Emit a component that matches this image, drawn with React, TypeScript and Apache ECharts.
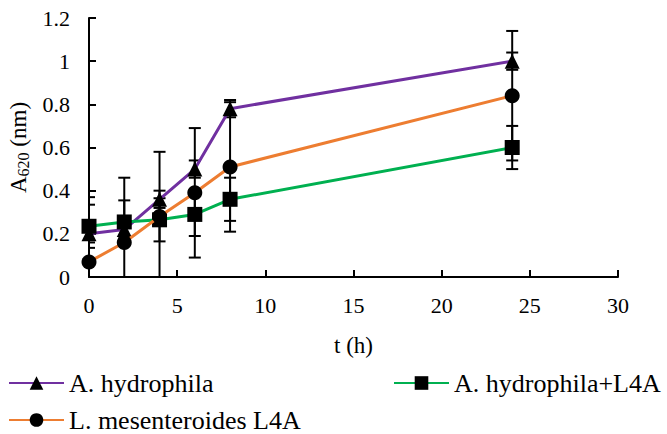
import React, { useEffect, useRef } from "react";
import * as echarts from "echarts";

const times = [0, 2, 4, 6, 8, 24];
const hydrophila = [0.2, 0.22, 0.36, 0.5, 0.78, 1.0];
const hydrophilaErr = [0.04, 0.04, 0.04, 0.04, 0.04, 0.04];
const mix = [0.235, 0.255, 0.265, 0.29, 0.36, 0.6];
const mixErr = [0.1, 0.1, 0.1, 0.1, 0.1, 0.1];
const lmes = [0.07, 0.16, 0.28, 0.39, 0.51, 0.84];
const lmesErr = [0.3, 0.3, 0.3, 0.3, 0.3, 0.3];

const seriesNames = ["A. hydrophila", "A. hydrophila+L4A", "L. mesenteroides L4A"];
const seriesColors = ["#7030A0", "#00B050", "#ED7D31"];
const seriesSymbols = ["triangle", "rect", "circle"];

const FONT = "Liberation Serif";

export default function App() {
  const ref = useRef<HTMLDivElement>(null);
  useEffect(() => {
    document.body.style.margin = "0";
    const chart = echarts.init(ref.current!, null, { renderer: "svg" });
    const values = [hydrophila, mix, lmes];
    const errs = [hydrophilaErr, mixErr, lmesErr];

    const lineSeries = values.map((vals, i) => ({
      type: "line",
      name: seriesNames[i],
      data: times.map((t, j) => [t, vals[j]]),
      symbol: seriesSymbols[i],
      symbolSize: 15,
      showAllSymbol: true,
      lineStyle: { color: seriesColors[i], width: 3 },
      itemStyle: { color: "#000" },
      z: 3 + i,
    }));

    const errSeries = values.map((vals, i) => ({
      type: "custom",
      name: seriesNames[i] + " err",
      clip: true,
      z: 2,
      encode: { x: 0, y: [1, 2] },
      data: times.map((t, j) => [t, vals[j] - errs[i][j], vals[j] + errs[i][j]]),
      renderItem: (params: any, api: any) => {
        const x = api.value(0);
        const lo = api.coord([x, api.value(1)]);
        const hi = api.coord([x, api.value(2)]);
        const w = 6;
        const st = { stroke: "#000", lineWidth: 2 };
        return {
          type: "group",
          children: [
            { type: "line", shape: { x1: hi[0], y1: hi[1], x2: lo[0], y2: lo[1] }, style: st },
            { type: "line", shape: { x1: hi[0] - w, y1: hi[1], x2: hi[0] + w, y2: hi[1] }, style: st },
            { type: "line", shape: { x1: lo[0] - w, y1: lo[1], x2: lo[0] + w, y2: lo[1] }, style: st },
          ],
        };
      },
    }));

    const legendBase = {
      orient: "horizontal",
      padding: 0,
      itemWidth: 55,
      itemHeight: 17,
      itemGap: 0,
      textStyle: { fontSize: 26, fontFamily: FONT, color: "#000" },
    };

    chart.setOption({
      animation: false,
      textStyle: { fontFamily: FONT },
      grid: { left: 89, right: 49, top: 18, bottom: 157, outerBoundsMode: "none" },
      xAxis: {
        type: "value",
        min: 0,
        max: 30,
        interval: 5,
        name: "t (h)",
        nameLocation: "middle",
        nameGap: 57,
        nameTextStyle: { fontSize: 23, fontFamily: FONT, color: "#000" },
        axisLine: { lineStyle: { color: "#000", width: 2 } },
        axisTick: { inside: true, length: 7, lineStyle: { color: "#000", width: 2 } },
        axisLabel: { fontSize: 22, fontFamily: FONT, color: "#000", margin: 17 },
        splitLine: { show: false },
      },
      yAxis: {
        type: "value",
        min: 0,
        max: 1.2,
        interval: 0.2,
        name: "{a|A}{s|620}{a| (nm)}",
        nameLocation: "middle",
        nameGap: 52,
        nameRotate: 90,
        nameTextStyle: {
          color: "#000",
          fontFamily: FONT,
          rich: {
            a: { fontSize: 23, fontFamily: FONT, color: "#000", lineHeight: 26 },
            s: { fontSize: 16, fontFamily: FONT, color: "#000", lineHeight: 11, verticalAlign: "bottom" },
          },
        },
        axisLine: { lineStyle: { color: "#000", width: 2 } },
        axisTick: { inside: true, length: 7, lineStyle: { color: "#000", width: 2 } },
        axisLabel: { fontSize: 22, fontFamily: FONT, color: "#000", margin: 19 },
        splitLine: { show: false },
      },
      legend: [
        { ...legendBase, data: [seriesNames[0]], left: 8, top: 370 },
        { ...legendBase, data: [seriesNames[1]], left: 393, top: 370 },
        { ...legendBase, data: [seriesNames[2]], left: 8, top: 407 },
      ],
      series: [...errSeries, ...lineSeries],
    });
    return () => chart.dispose();
  }, []);
  return <div ref={ref} style={{ width: 667, height: 434 }} />;
}
